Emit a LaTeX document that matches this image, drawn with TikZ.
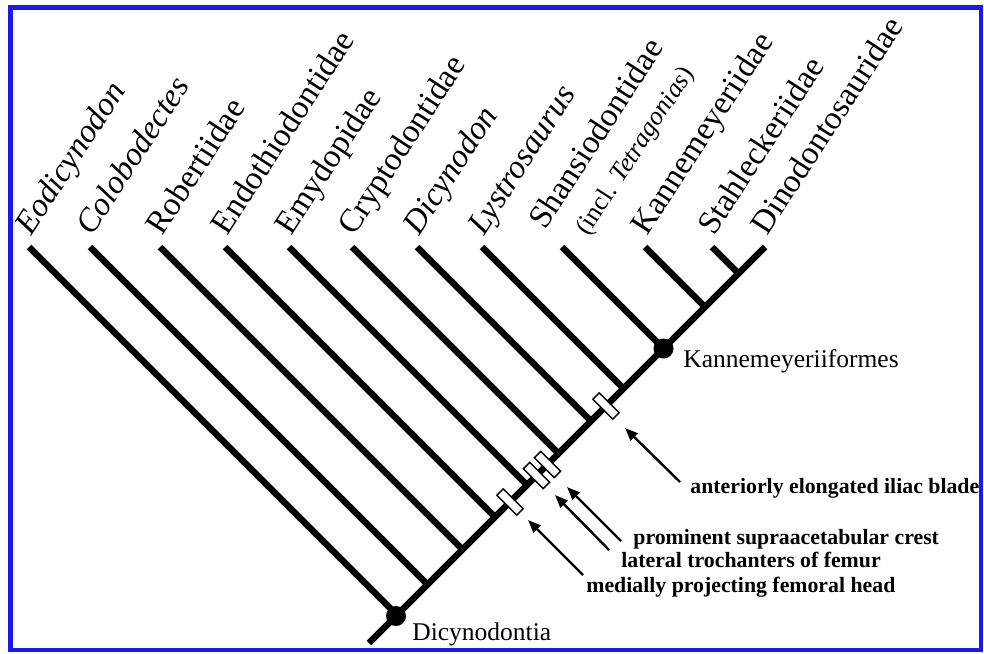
\documentclass[tikz,border=0pt]{standalone}
\usepackage{fontspec}
\setmainfont{Liberation Serif}
\usetikzlibrary{arrows.meta,positioning}
\definecolor{frameblue}{RGB}{25,25,245}

\begin{document}
\begin{tikzpicture}[x=0.5pt, y=-0.5pt,
    branch/.style={line width=3.2pt},
    taxon/.style={rotate=57, anchor=base west, inner sep=0pt, font=\fontsize{16.5}{19.5}\selectfont},
    clade/.style={anchor=base west, inner sep=0pt, font=\fontsize{12.75}{15}\selectfont},
    trait/.style={anchor=base west, inner sep=0pt, font=\fontsize{10.9}{13}\selectfont\bfseries},
    bar/.style={rectangle, draw=black, line width=0.7pt, fill=white, minimum width=14pt, minimum height=4.5pt, inner sep=0pt, rotate=-45},
    knot/.style={circle, fill=black, inner sep=0pt, minimum size=10pt},
    pointer/.style={line width=1.2pt, -{Triangle[length=6.5pt,width=5pt]}}]

  \useasboundingbox (0,0) rectangle (984,653);

  % main stem
  \coordinate (root) at (369,643);
  \coordinate (top) at (765,247);
  \draw[branch] (root) -- (top);

  % side branches
  \foreach \tx [count=\i] in {29,90,160,225,289,352,417,482,562,645,712} {
    \coordinate (tip\i) at (\tx,247);
    \coordinate (join\i) at ({(765+\tx)/2},{(1259-\tx)/2});
    \draw[branch] (tip\i) -- (join\i);
  }

  % terminal taxa
  \foreach \tx/\lab [count=\i] in {29/\textit{Eodicynodon},90/\textit{Colobodectes},%
      160/Robertiidae,225/Endothiodontidae,289/Emydopidae,352/Cryptodontidae,%
      417/\textit{Dicynodon},482/\textit{Lystrosaurus},645/Kannemeyeriidae,%
      712/Stahleckeriidae,765/Dinodontosauridae}
    \node[taxon] (taxon\i) at (\tx+2,237) {\lab};
  \node[taxon] (shansio) at (545,231) {Shansiodontidae};
  \node[taxon, font=\fontsize{13}{15}\selectfont] (shansioincl) at (588,237) {(incl. \textit{Tetragonias})};

  % named clades
  \node[knot] (dicynodontia) at (396,616) {};
  \node[knot] (kannemeyeriiformes) at (663.5,348.5) {};
  \node[clade] (dicylabel) at (412,640) {Dicynodontia};
  \node[clade] (kannlabel) at (683,367) {Kannemeyeriiformes};

  % synapomorphies
  \node[bar] (barhead) at (510,502) {};
  \node[bar] (bartroch) at (536.5,475.5) {};
  \node[bar] (barcrest) at (547.5,464.5) {};
  \node[bar] (bariliac) at (606,406) {};

  \node[trait] (iliac) at (690,493) {anteriorly elongated iliac blade};
  \node[trait] (crest) at (633,544) {prominent supraacetabular crest};
  \node[trait] (troch) at (621,567) {lateral trochanters of femur};
  \node[trait] (head) at (586,592) {medially projecting femoral head};

  \coordinate (iliacfrom) at (680,482);
  \coordinate (iliacto) at (625,428);
  \coordinate (crestfrom) at (621,541);
  \coordinate (crestto) at (567,487);
  \coordinate (trochfrom) at (609,550);
  \coordinate (trochto) at (555,495);
  \coordinate (headfrom) at (583,575);
  \coordinate (headto) at (528,520);
  \draw[pointer] (iliacfrom) -- (iliacto);
  \draw[pointer] (crestfrom) -- (crestto);
  \draw[pointer] (trochfrom) -- (trochto);
  \draw[pointer] (headfrom) -- (headto);

  % frame
  \draw[frameblue, line width=2.3pt] (10.5,7.5) rectangle (981,650);
\end{tikzpicture}
\end{document}
